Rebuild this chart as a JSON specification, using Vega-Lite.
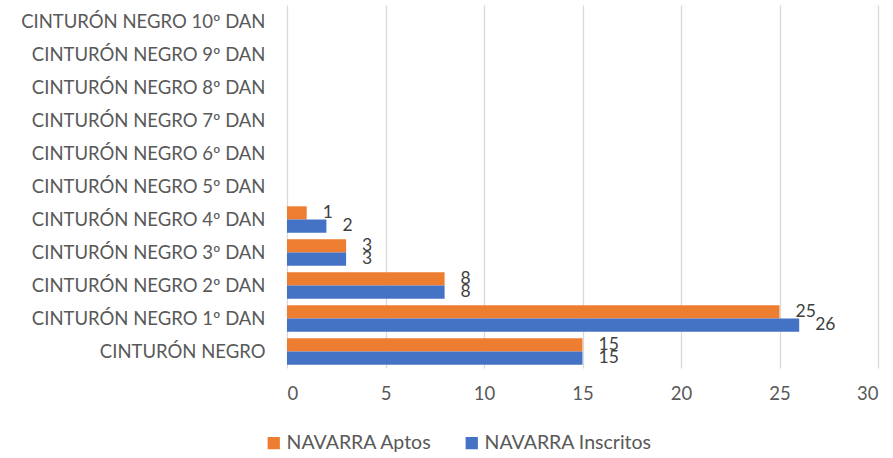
{
  "$schema": "https://vega.github.io/schema/vega-lite/v6.json",
  "autosize": {"type": "none"},
  "width": 591,
  "height": 363,
  "padding": {"left": 287, "top": 5, "right": 15, "bottom": 90},
  "background": "white",
  "config": {
    "view": {"stroke": null},
    "font": "Lato",
    "axis": {"labelFont": "Lato", "labelFontSize": 18.5, "labelColor": "#595959"}
  },
  "data": {
    "values": [
      {"cat": "CINTURÓN NEGRO 4º DAN", "serie": "NAVARRA Aptos", "valor": 1},
      {"cat": "CINTURÓN NEGRO 4º DAN", "serie": "NAVARRA Inscritos", "valor": 2},
      {"cat": "CINTURÓN NEGRO 3º DAN", "serie": "NAVARRA Aptos", "valor": 3},
      {"cat": "CINTURÓN NEGRO 3º DAN", "serie": "NAVARRA Inscritos", "valor": 3},
      {"cat": "CINTURÓN NEGRO 2º DAN", "serie": "NAVARRA Aptos", "valor": 8},
      {"cat": "CINTURÓN NEGRO 2º DAN", "serie": "NAVARRA Inscritos", "valor": 8},
      {"cat": "CINTURÓN NEGRO 1º DAN", "serie": "NAVARRA Aptos", "valor": 25},
      {"cat": "CINTURÓN NEGRO 1º DAN", "serie": "NAVARRA Inscritos", "valor": 26},
      {"cat": "CINTURÓN NEGRO", "serie": "NAVARRA Aptos", "valor": 15},
      {"cat": "CINTURÓN NEGRO", "serie": "NAVARRA Inscritos", "valor": 15}
    ]
  },
  "encoding": {
    "y": {
      "field": "cat", "type": "nominal", "title": null,
      "scale": {
        "domain": ["CINTURÓN NEGRO 10º DAN", "CINTURÓN NEGRO 9º DAN", "CINTURÓN NEGRO 8º DAN", "CINTURÓN NEGRO 7º DAN", "CINTURÓN NEGRO 6º DAN", "CINTURÓN NEGRO 5º DAN", "CINTURÓN NEGRO 4º DAN", "CINTURÓN NEGRO 3º DAN", "CINTURÓN NEGRO 2º DAN", "CINTURÓN NEGRO 1º DAN", "CINTURÓN NEGRO"],
        "paddingInner": 0.2, "paddingOuter": 0.1
      },
      "axis": {"domain": false, "ticks": false, "labelPadding": 22, "labelLimit": 300}
    },
    "yOffset": {
      "field": "serie", "type": "nominal",
      "scale": {"domain": ["NAVARRA Aptos", "NAVARRA Inscritos"], "paddingInner": 0}
    },
    "x": {
      "field": "valor", "type": "quantitative", "title": null,
      "scale": {"domain": [0, 30], "nice": false},
      "axis": {"values": [0, 5, 10, 15, 20, 25, 30], "domain": false, "ticks": false, "grid": true, "gridColor": "#d9d9d9", "gridWidth": 1.3, "labelPadding": 16}
    }
  },
  "layer": [
    {
      "mark": {"type": "bar"},
      "encoding": {
        "color": {
          "field": "serie", "type": "nominal",
          "scale": {"domain": ["NAVARRA Aptos", "NAVARRA Inscritos"], "range": ["#ED7D31", "#4472C4"]},
          "legend": {
            "title": null, "orient": "none", "legendX": -23, "legendY": 428,
            "direction": "horizontal", "symbolType": "square", "symbolSize": 150,
            "labelFont": "Lato", "labelFontSize": 19.5, "labelColor": "#595959", "labelLimit": 300,
            "columnPadding": 30, "symbolStrokeWidth": 0, "labelOffset": 3
          }
        }
      }
    },
    {
      "mark": {"type": "text", "align": "left", "baseline": "middle", "dx": 16, "fontSize": 17.5, "color": "#404040", "font": "Lato"},
      "encoding": {"text": {"field": "valor", "type": "quantitative"}}
    }
  ]
}
